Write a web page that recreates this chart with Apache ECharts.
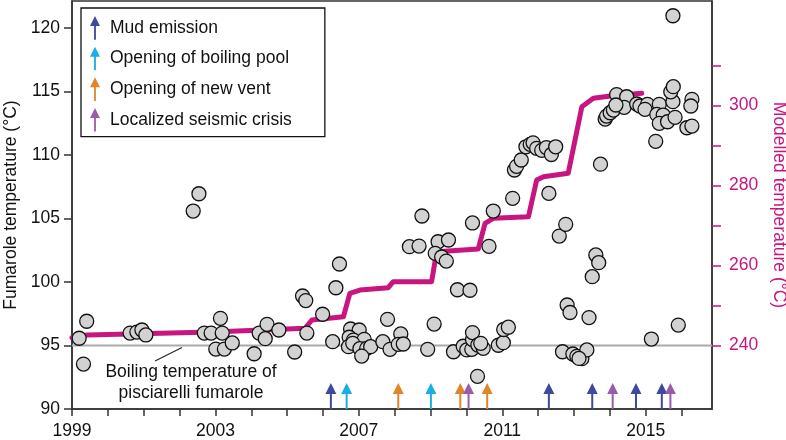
<!DOCTYPE html>
<html><head><meta charset="utf-8">
<script src="https://cdn.jsdelivr.net/npm/echarts@6/dist/echarts.min.js"></script>
<style>html,body{margin:0;padding:0;background:#fff}#c{width:786px;height:440px}</style>
</head><body><div id="c"></div>
<script>
// ---- data ----
const fumaroleYears = [1999.20,1999.41,1999.32,2000.62,2000.81,2000.95,2001.06,2002.38,2002.54,2002.69,2002.88,2003.14,2003.19,2003.01,2003.25,2003.47,2004.08,2004.22,2004.44,2004.39,2004.77,2005.21,2005.43,2005.52,2005.55,2005.99,2006.27,2006.36,2006.46,2006.77,2007.01,2006.73,2006.85,2007.15,2006.71,2006.83,2007.03,2007.22,2007.33,2007.08,2007.67,2007.87,2007.80,2008.17,2008.10,2008.24,2008.41,2008.68,2008.76,2008.92,2009.10,2009.21,2009.50,2009.13,2009.31,2009.44,2009.75,2010.10,2010.17,2010.63,2010.75,2011.29,2009.64,2009.91,2010.01,2010.15,2010.17,2010.17,2010.32,2010.47,2010.40,2010.89,2011.03,2011.04,2011.17,2010.31,2011.34,2011.40,2011.53,2011.66,2011.78,2011.86,2011.96,2012.10,2012.23,2012.37,2012.49,2012.30,2012.59,2012.77,2013.74,2013.61,2013.69,2013.51,2012.81,2012.89,2013.42,2012.68,2012.97,2013.08,2013.22,2013.36,2013.14,2013.87,2013.91,2014.01,2014.10,2014.19,2014.47,2014.40,2014.17,2014.75,2014.84,2015.05,2014.98,2015.38,2015.31,2015.49,2015.38,2015.61,2015.82,2015.76,2015.70,2015.77,2016.29,2016.26,2016.15,2016.29,2015.28,2015.76,2015.16,2015.91];
const fumaroleTemps = [95.57,96.91,93.54,95.98,96.06,96.22,95.83,105.59,106.95,95.98,95.98,97.14,95.98,94.72,94.72,95.20,94.35,95.98,96.67,95.54,96.22,94.49,98.90,98.54,95.98,97.46,95.30,99.55,101.42,96.30,96.22,95.65,95.43,95.49,94.91,95.17,94.75,94.78,94.91,94.17,95.30,94.70,97.06,95.91,95.09,95.12,102.78,102.83,105.20,94.70,96.69,103.17,103.31,102.26,101.97,101.65,99.39,99.35,104.65,102.81,105.59,106.59,94.51,94.94,94.65,94.70,95.47,96.02,95.04,94.78,95.17,95.02,95.22,96.26,96.44,92.57,108.82,109.11,109.61,110.65,110.84,110.96,110.53,110.37,110.59,110.04,110.65,106.98,103.62,104.54,109.28,102.13,101.52,100.42,98.19,97.60,97.20,94.51,94.33,94.15,93.96,94.65,93.98,112.83,113.07,113.33,113.54,114.76,114.59,113.76,113.94,114.02,113.86,113.99,113.60,113.99,113.20,113.15,112.50,112.62,112.97,114.20,114.98,115.38,114.39,113.86,112.15,112.28,111.08,120.97,95.51,96.61];

const modelYears = [1999.00,1999.42,2002.93,2005.50,2005.69,2006.57,2006.75,2007.03,2007.82,2007.96,2009.03,2009.17,2010.33,2010.52,2010.75,2011.73,2011.96,2012.15,2012.84,2013.22,2013.54,2014.01,2014.89];
const modelTemps = [241.95,242.62,243.37,244.30,246.37,247.19,253.04,253.86,254.44,255.94,255.94,263.43,264.11,270.53,271.78,272.18,281.34,282.17,283.02,299.66,301.75,302.33,303.00];

const mudEmission   = [2006.22, 2012.30, 2013.51, 2014.73, 2015.45];
const boilingPool   = [2006.66, 2009.01];
const newVent       = [2008.10, 2009.83, 2010.58];
const seismicCrisis = [2010.06, 2014.08, 2015.69];

const boilingTemp = 95;
const xTickValues = [1999,2000,2001,2002,2003,2004,2005,2006,2007,2008,2009,2010,2011,2012,2013,2014,2015,2016];
const xLabelValues = [1999,2003,2007,2011,2015];
const leftTickValues = [90,95,100,105,110,115,120];
const rightTickValues = [240,250,260,270,280,290,300,310];
const rightLabelValues = [240,260,280,300];

const eventNames = ['Mud emission','Opening of boiling pool','Opening of new vent','Localized seismic crisis'];
const eventColors = ['#3d4a9e','#1aaee6','#e0862a','#9a5ca8'];
const eventYears = [mudEmission, boilingPool, newVent, seismicCrisis];

// ---- chart ----
const FONT = 'Liberation Sans, Arial, Helvetica, sans-serif';
const MAG = '#c8157f';
const AX = '#333';
const FS = 17.5;
const arrowPath = 'path://M5.5,0L11,11L6.5,11L6.5,26L4.5,26L4.5,11L0,11Z';

const X_MIN = 1999, X_MAX = 2016.85;
const chart = echarts.init(document.getElementById('c'), null, {renderer:'canvas'});

const series = [
  {
    type:'line', name:'boiling', data:[[X_MIN,boilingTemp],[X_MAX,boilingTemp]],
    showSymbol:false, silent:true, z:1,
    lineStyle:{color:'#aaaaaa', width:2}
  },
  {
    type:'line', name:'model', yAxisIndex:1, z:2,
    data: modelYears.map((y,i)=>[y, modelTemps[i]]),
    showSymbol:false, silent:true,
    lineStyle:{color:MAG, width:5, cap:'round', join:'round'}
  },
  {
    type:'scatter', name:'fumarole', z:3,
    data: fumaroleYears.map((y,i)=>[y, fumaroleTemps[i]]),
    symbol:'circle', symbolSize:14,
    itemStyle:{color:'#d2d2d2', borderColor:'#111', borderWidth:1.3, opacity:1}
  }
];
eventNames.forEach((n,k)=>{
  series.push({
    type:'scatter', name:n, z:4,
    data: eventYears[k].map(y=>[y,90]),
    symbol: arrowPath, symbolSize:[11,26], symbolOffset:[0,-13],
    itemStyle:{color:eventColors[k], opacity:1},
    clip:false
  });
});

chart.setOption({
  animation:false,
  backgroundColor:'#fff',
  textStyle:{fontFamily:FONT},
  grid:{left:72, right:74, top:1, bottom:31, show:true, borderColor:AX, borderWidth:1.5, backgroundColor:'transparent', outerBoundsMode:'none', containLabel:false},
  legend:{
    data: eventNames.map(n=>({name:n, icon:arrowPath})),
    orient:'vertical', left:81, top:8,
    itemWidth:10, itemHeight:24, itemGap:7,
    padding:[8,33,5,9],
    borderColor:'#111', borderWidth:1.3, backgroundColor:'#fff',
    selectedMode:false,
    textStyle:{fontSize:FS, color:'#111', fontFamily:FONT, padding:[0,0,0,5]}
  },
  xAxis:{
    type:'value', min:X_MIN, max:X_MAX,
    axisLine:{show:true, onZero:false, lineStyle:{color:AX, width:1.5}},
    axisTick:{show:true, customValues:xTickValues, length:7, lineStyle:{color:AX, width:1.5}},
    axisLabel:{customValues:xLabelValues, fontSize:FS, color:'#111', margin:13, fontFamily:FONT, formatter:v=>String(Math.round(v))},
    splitLine:{show:false}
  },
  yAxis:[
    {
      type:'value', min:90, max:122.13, position:'left',
      name:'Fumarole temperature (°C)', nameLocation:'middle', nameGap:51, nameRotate:90,
      nameTextStyle:{fontSize:FS, color:'#111', fontFamily:FONT},
      axisLine:{show:true, onZero:false, lineStyle:{color:AX, width:1.5}},
      axisTick:{show:true, customValues:leftTickValues, length:8, lineStyle:{color:AX, width:1.5}},
      axisLabel:{customValues:leftTickValues, fontSize:FS, color:'#111', margin:12, fontFamily:FONT},
      splitLine:{show:false}
    },
    {
      type:'value', min:224.14, max:326.06, position:'right',
      name:'Modelled temperature (°C)', nameLocation:'middle', nameGap:58, nameRotate:-90,
      nameTextStyle:{fontSize:FS, color:MAG, fontFamily:FONT},
      axisLine:{show:true, onZero:false, lineStyle:{color:AX, width:1.5}},
      axisTick:{show:true, customValues:rightTickValues, length:9, lineStyle:{color:MAG, width:1.5}},
      axisLabel:{customValues:rightLabelValues, fontSize:FS, color:MAG, margin:17, fontFamily:FONT},
      splitLine:{show:false}
    }
  ],
  graphic:[
    {type:'line', shape:{x1:155, y1:361, x2:182, y2:347.5}, style:{stroke:'#222', lineWidth:1.2}, z:10},
    {type:'text', x:191, y:362, z:10, style:{text:'Boiling temperature of\npisciarelli fumarole', fill:'#111', font:FS+'px '+FONT, textAlign:'center', textVerticalAlign:'top', lineHeight:21}}
  ],
  series: series
});
</script>
</body></html>
